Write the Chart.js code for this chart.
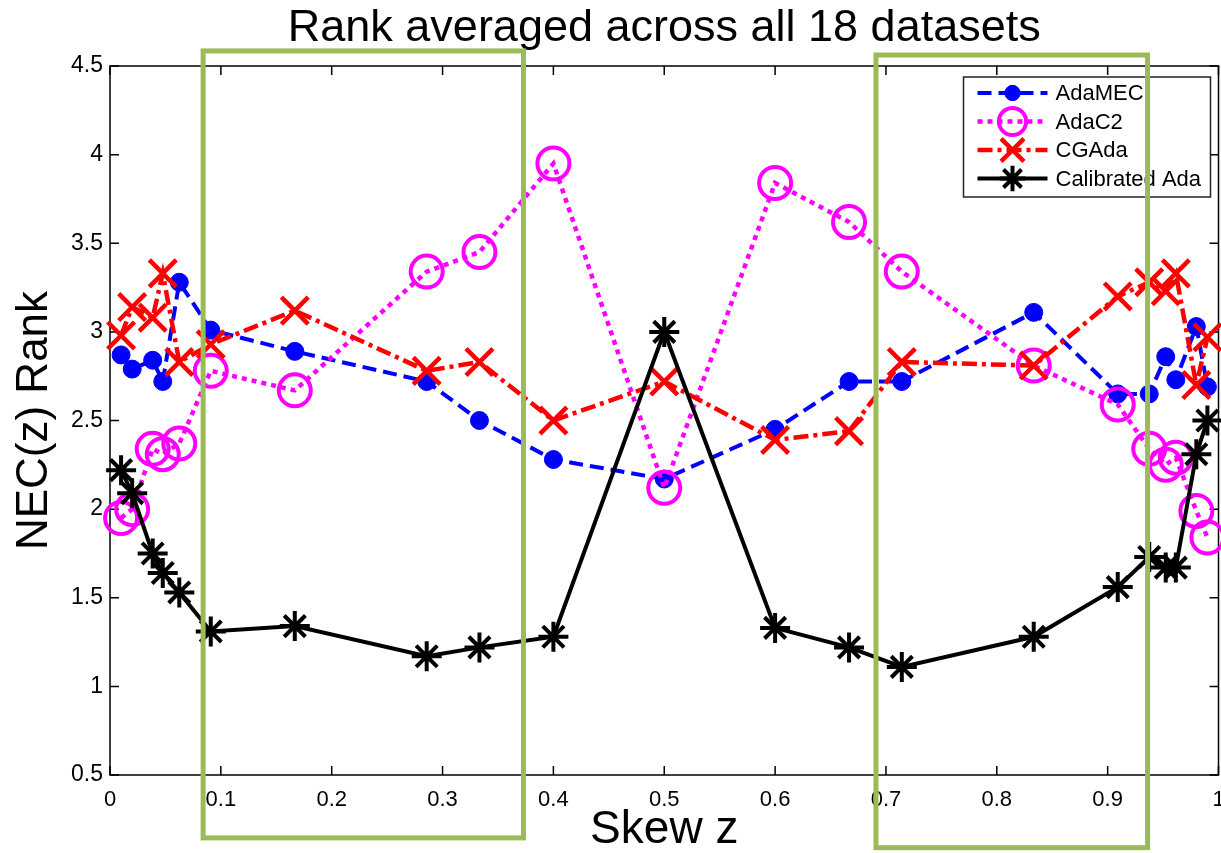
<!DOCTYPE html>
<html>
<head>
<meta charset="utf-8">
<title>Rank averaged across all 18 datasets</title>
<script src="https://cdn.jsdelivr.net/npm/chart.js@4.4.1/dist/chart.umd.min.js"></script>
<style>
	html, body { margin: 0; padding: 0; background: #fff; overflow: hidden; }
	#wrap { position: relative; width: 1242px; height: 853px; }
</style>
</head>
<body>
<div id="wrap"><canvas id="rankChart"></canvas></div>
<script>
// skew values z = c / (1 + c) for the cost ratios used
const skew = [0.01, 0.02, 0.0385, 0.0476, 0.0625, 0.0909, 0.1667, 0.2857, 0.3333, 0.4, 0.5,
	0.6, 0.6667, 0.7143, 0.8333, 0.9091, 0.9375, 0.9524, 0.9615, 0.98, 0.99];

const adaMEC = [2.87, 2.79, 2.84, 2.72, 3.28, 3.01, 2.89, 2.72, 2.5, 2.28, 2.17,
	2.45, 2.72, 2.72, 3.11, 2.65, 2.65, 2.86, 2.73, 3.03, 2.69];
const adaC2 = [1.95, 2.0, 2.34, 2.31, 2.37, 2.78, 2.67, 3.34, 3.45, 3.95, 2.12,
	3.84, 3.62, 3.34, 2.81, 2.59, 2.34, 2.25, 2.29, 1.99, 1.84];
const cgAda = [2.98, 3.14, 3.08, 3.33, 2.83, 2.93, 3.12, 2.78, 2.83, 2.5, 2.72,
	2.39, 2.44, 2.83, 2.81, 3.2, 3.28, 3.23, 3.33, 2.7, 2.97];
const calibratedAda = [2.22, 2.09, 1.75, 1.64, 1.53, 1.31, 1.34, 1.17, 1.22, 1.28, 3.0,
	1.33, 1.22, 1.11, 1.28, 1.56, 1.73, 1.67, 1.67, 2.31, 2.5];

const seriesLabels = ['AdaMEC', 'AdaC2', 'CGAda', 'Calibrated Ada'];

// green highlight boxes, in axis units (they run past the plot area)
const boxFrom = [0.084, 0.691];
const boxTo = [0.373, 0.936];
const boxTop = [4.585, 4.562];
const boxBottom = [0.145, 0.09];

const toPoints = (values) => values.map((v, i) => ({ x: skew[i], y: v }));
const plainNumber = (v) => String(Math.round(v * 100) / 100);

Chart.defaults.font.family = "'Liberation Sans', Arial, sans-serif";
Chart.defaults.color = '#000';

// MATLAB style box with inward ticks
const axesBox = {
	id: 'axesBox',
	beforeDatasetsDraw(chart) {
		const { ctx, chartArea: a, scales: { x, y } } = chart;
		ctx.save();
		ctx.strokeStyle = '#000';
		ctx.lineWidth = 1.5;
		ctx.strokeRect(a.left, a.top, a.right - a.left, a.bottom - a.top);
		ctx.beginPath();
		x.ticks.forEach((t) => {
			const px = x.getPixelForValue(t.value);
			ctx.moveTo(px, a.bottom);
			ctx.lineTo(px, a.bottom - 9);
			ctx.moveTo(px, a.top);
			ctx.lineTo(px, a.top + 9);
		});
		y.ticks.forEach((t) => {
			const py = y.getPixelForValue(t.value);
			ctx.moveTo(a.left, py);
			ctx.lineTo(a.left + 9, py);
			ctx.moveTo(a.right, py);
			ctx.lineTo(a.right - 9, py);
		});
		ctx.stroke();
		ctx.restore();
	},
};

// legend with line sample + marker, like the MATLAB one
const lineLegend = {
	id: 'lineLegend',
	afterDatasetsDraw(chart) {
		const { ctx, chartArea: a } = chart;
		const left = a.right - 255;
		const top = a.top + 11;
		ctx.save();
		ctx.fillStyle = '#fff';
		ctx.fillRect(left, top, 247, 120);
		ctx.strokeStyle = '#222';
		ctx.lineWidth = 1.5;
		ctx.strokeRect(left, top, 247, 120);
		chart.data.datasets.forEach((ds, i) => {
			const cy = top + 16 + i * 28.5;
			ctx.save();
			ctx.strokeStyle = ds.borderColor;
			ctx.lineWidth = ds.borderWidth;
			ctx.setLineDash(ds.borderDash || []);
			ctx.beginPath();
			ctx.moveTo(left + 14, cy);
			ctx.lineTo(left + 84, cy);
			ctx.stroke();
			ctx.setLineDash([]);
			ctx.strokeStyle = ds.borderColor;
			ctx.fillStyle = ds.pointBackgroundColor;
			ctx.lineWidth = ds.pointBorderWidth;
			Chart.helpers.drawPoint(ctx, {
				pointStyle: ds.pointStyle,
				radius: ds.pointRadius * 0.85,
				borderWidth: ds.pointBorderWidth,
				rotation: 0,
			}, left + 49, cy);
			ctx.restore();
			ctx.fillStyle = '#000';
			ctx.font = "22px 'Liberation Sans', Arial, sans-serif";
			ctx.textBaseline = 'middle';
			ctx.fillText(ds.label, left + 92, cy + 1);
		});
		ctx.restore();
	},
};

const highlightBoxes = {
	id: 'highlightBoxes',
	afterDraw(chart) {
		const { ctx, scales: { x, y } } = chart;
		ctx.save();
		ctx.strokeStyle = '#9bbb59';
		ctx.lineWidth = 5;
		boxFrom.forEach((from, i) => {
			const l = x.getPixelForValue(from);
			const r = x.getPixelForValue(boxTo[i]);
			const t = y.getPixelForValue(boxTop[i]);
			const b = y.getPixelForValue(boxBottom[i]);
			ctx.strokeRect(l, t, r - l, b - t);
		});
		ctx.restore();
	},
};

const rankCtx = document.getElementById('rankChart').getContext('2d');
const rankChart = new Chart(rankCtx, {
	type: 'line',
	data: {
		datasets: [
			{
				label: seriesLabels[0],
				data: toPoints(adaMEC),
				borderColor: '#0000ff',
				borderWidth: 4,
				borderDash: [14, 7],
				pointStyle: 'circle',
				pointRadius: 9,
				pointBorderWidth: 1,
				pointBackgroundColor: '#0000ff',
				order: 4,
			},
			{
				label: seriesLabels[1],
				data: toPoints(adaC2),
				borderColor: '#ff00ff',
				borderWidth: 4.5,
				borderDash: [5, 5],
				pointStyle: 'circle',
				pointRadius: 16,
				pointBorderWidth: 4,
				pointBackgroundColor: 'rgba(0,0,0,0)',
				order: 3,
			},
			{
				label: seriesLabels[2],
				data: toPoints(cgAda),
				borderColor: '#ff0000',
				borderWidth: 4.5,
				borderDash: [15, 5, 4, 5],
				pointStyle: 'crossRot',
				pointRadius: 19,
				pointBorderWidth: 4.5,
				pointBackgroundColor: '#ff0000',
				order: 2,
			},
			{
				label: seriesLabels[3],
				data: toPoints(calibratedAda),
				borderColor: '#000000',
				borderWidth: 4,
				borderDash: [],
				pointStyle: 'star',
				pointRadius: 15,
				pointBorderWidth: 4,
				pointBackgroundColor: '#000000',
				order: 1,
			},
		],
	},
	options: {
		responsive: true,
		maintainAspectRatio: false,
		animation: false,
		events: [],
		layout: { padding: 0 },
		elements: {
			line: { tension: 0, fill: false, borderCapStyle: 'butt' },
		},
		datasets: {
			line: { clip: false },
		},
		plugins: {
			legend: { display: false },
			tooltip: { enabled: false },
			title: {
				display: true,
				fullSize: false,
				text: 'Rank averaged across all 18 datasets',
				font: { size: 45, weight: 'normal' },
				color: '#000',
				padding: { top: 2, bottom: 10 },
			},
		},
		scales: {
			x: {
				type: 'linear',
				min: 0,
				max: 1,
				grid: { display: false, drawTicks: false },
				border: { display: false },
				ticks: { stepSize: 0.1, padding: 12, font: { size: 22 }, color: '#000', maxRotation: 0, callback: plainNumber },
				title: {
					display: true,
					text: 'Skew z',
					font: { size: 46, lineHeight: 1 },
					color: '#000',
					padding: { top: 0, bottom: 0 },
				},
				afterFit(scale) {
					scale.height = 78;
				},
			},
			y: {
				min: 0.5,
				max: 4.5,
				grid: { display: false, drawTicks: false },
				border: { display: false },
				ticks: { stepSize: 0.5, padding: 7, font: { size: 23 }, color: '#000', callback: plainNumber },
				title: {
					display: true,
					text: 'NEC(z) Rank',
					font: { size: 44 },
					color: '#000',
					padding: { top: 8, bottom: 0 },
				},
				afterFit(scale) {
					scale.width = 110;
				},
			},
		},
	},
	plugins: [axesBox, lineLegend, highlightBoxes],
});
</script>
</body>
</html>
